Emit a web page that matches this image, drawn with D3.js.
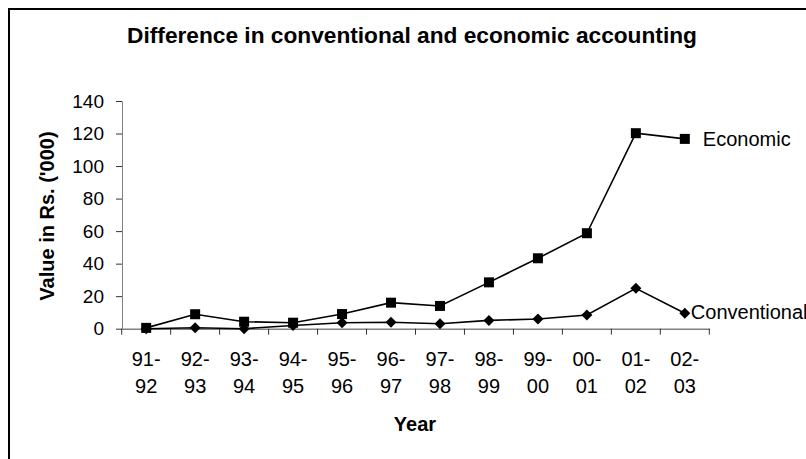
<!DOCTYPE html>
<html><head><meta charset="utf-8">
<script src="https://cdn.jsdelivr.net/npm/d3@7"></script>
<style>
body{margin:0;background:#fff;}
svg{display:block;font-family:"Liberation Sans",Arial,sans-serif;}
</style></head>
<body><svg id="c" width="806" height="459"></svg>
<script>
const categories = ["91-92","92-93","93-94","94-95","95-96","96-97","97-98","98-99","99-00","00-01","01-02","02-03"];
const economic = [0.5, 8.9, 4.3, 3.7, 9, 16, 14, 28.5, 43.3, 58.7, 120.2, 116.7];
const conventional = [0, 0.6, 0, 2, 3.7, 4, 3, 5.1, 6, 8.4, 24.8, 9.5];
const yTicks = [0, 20, 40, 60, 80, 100, 120, 140];
const titleText = "Difference in conventional and economic accounting";
const xTitle = "Year";
const yTitle = "Value in Rs. ('000)";

const svg = d3.select("#c");
svg.append("rect").attr("x",9).attr("y",9).attr("width",820).attr("height",480)
  .attr("fill","#fff").attr("stroke","#000").attr("stroke-width",2);

const x = d3.scaleBand().domain(categories).range([121.7, 709.3]);
const y = d3.scaleLinear().domain([0,140]).range([328.7, 101]);

// Y axis
const yAxis = svg.append("g").attr("transform","translate(122,0)")
  .call(d3.axisLeft(y).tickValues(yTicks).tickSize(6).tickSizeOuter(0).tickPadding(12));
yAxis.select(".domain").attr("stroke","#808080");
yAxis.selectAll(".tick line").attr("stroke","#333");
yAxis.selectAll(".tick text").attr("font-size",19).attr("fill","#000").attr("font-family","Liberation Sans, Arial");

// X axis
const xAxis = svg.append("g").attr("transform",`translate(0,${y(0)})`)
  .call(d3.axisBottom(x).tickSize(0).tickSizeOuter(0).tickFormat(""));
xAxis.select(".domain").attr("stroke","#808080").attr("stroke-width",1.5);
xAxis.selectAll(".tick").remove();
const bounds = categories.map(c => x(c)).concat([x.range()[1]]);
xAxis.selectAll("line.tk").data(bounds).enter().append("line")
  .attr("x1",d=>d).attr("x2",d=>d).attr("y1",0).attr("y2",6).attr("stroke","#333");
const lab = svg.append("g");
categories.forEach(c => {
  const parts = c.split("-");
  const t = lab.append("text").attr("text-anchor","middle")
    .attr("font-size",20).attr("fill","#000");
  t.append("tspan").attr("x", x(c)+x.bandwidth()/2).attr("y",366).text(parts[0]+"-");
  t.append("tspan").attr("x", x(c)+x.bandwidth()/2).attr("y",393).text(parts[1]);
});

// titles
svg.append("text").attr("x",412).attr("y",43).attr("text-anchor","middle")
  .attr("font-size",22.7).attr("font-weight","bold").text(titleText);
svg.append("text").attr("x",415).attr("y",431).attr("text-anchor","middle")
  .attr("font-size",20).attr("font-weight","bold").text(xTitle);
svg.append("text").attr("transform","translate(54,216) rotate(-90)").attr("text-anchor","middle")
  .attr("font-size",20).attr("font-weight","bold").text(yTitle);

const cx = c => x(c)+x.bandwidth()/2;
const line = d3.line().x((d,i)=>cx(categories[i])).y(d=>y(d));
svg.append("path").datum(economic).attr("d",line).attr("fill","none").attr("stroke","#000").attr("stroke-width",1.6);
svg.append("path").datum(conventional).attr("d",line).attr("fill","none").attr("stroke","#000").attr("stroke-width",1.6);

svg.append("g").selectAll("rect").data(economic).enter().append("rect")
  .attr("x",(d,i)=>cx(categories[i])-5).attr("y",d=>y(d)-5).attr("width",10).attr("height",10).attr("fill","#000");
svg.append("g").selectAll("path").data(conventional).enter().append("path")
  .attr("d","M0,-5.5L5.5,0L0,5.5L-5.5,0Z")
  .attr("transform",(d,i)=>`translate(${cx(categories[i])},${y(d)})`).attr("fill","#000");

const last = categories.length-1;
svg.append("text").attr("x",cx(categories[last])+18).attr("y",y(economic[last])+7)
  .attr("font-size",20).text("Economic");
svg.append("text").attr("x",cx(categories[last])+6).attr("y",y(conventional[last])+6)
  .attr("font-size",20).text("Conventional");
</script></body></html>
